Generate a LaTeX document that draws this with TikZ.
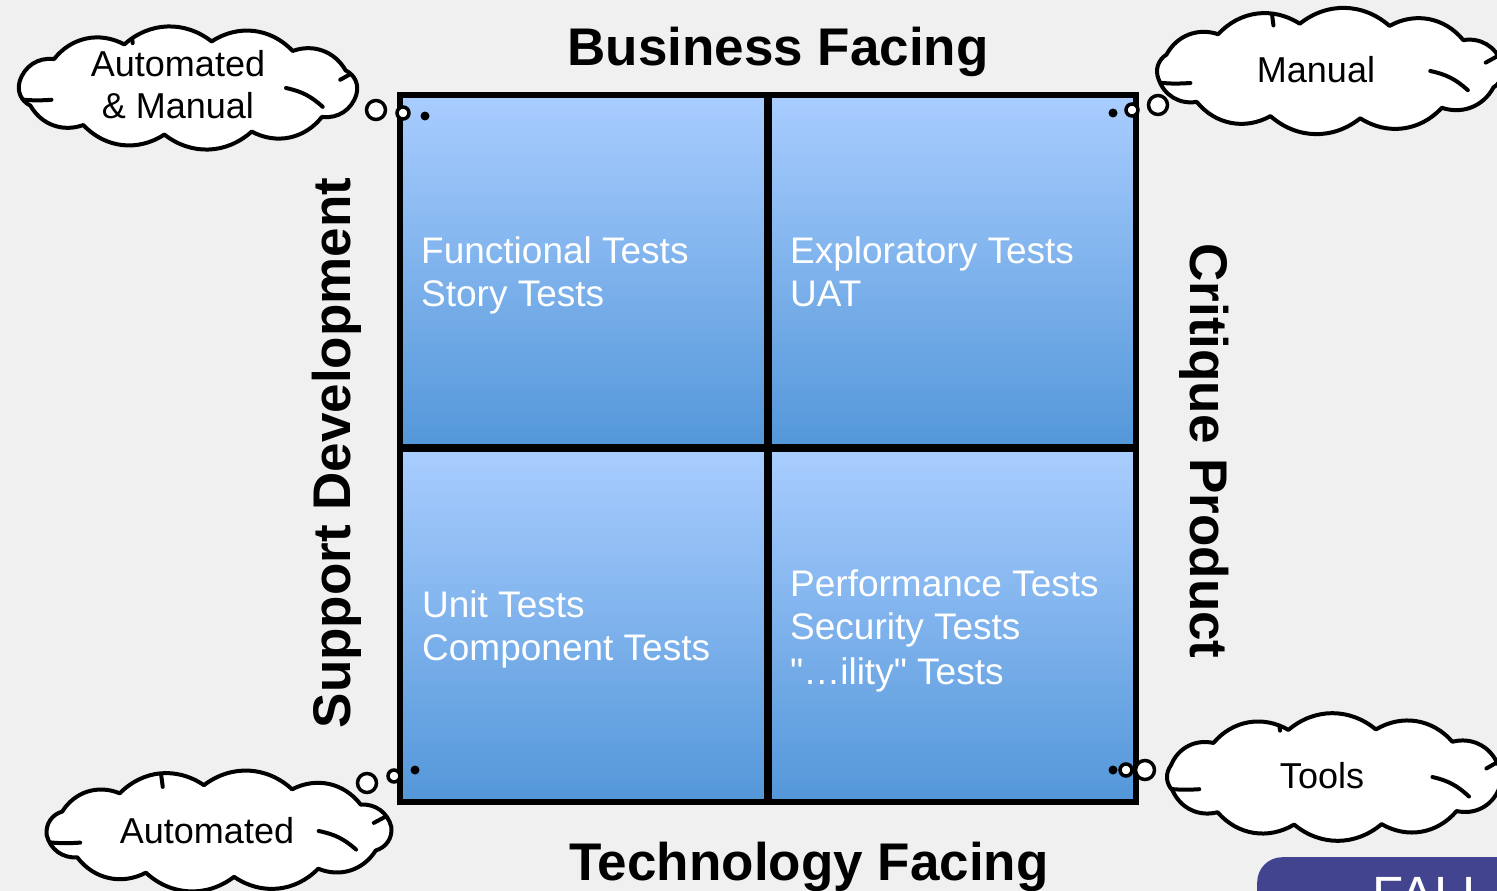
\documentclass[tikz,border=0pt]{standalone}
\usepackage{fontspec}
\setmainfont{Liberation Sans}
\newfontfamily\qfont{Liberation Sans}[Ligatures=TeXOff]
\definecolor{bgc}{HTML}{F0F0F0}
\definecolor{qtop}{HTML}{A9CDFF}
\definecolor{qbot}{HTML}{5397D9}
\definecolor{fallc}{HTML}{43448F}
\newcommand{\cloudpath}[5]{({#1+#3*cos(#5)},{#2+#4*sin(#5)})
    \foreach \k in {1,...,11} { to[bend left=40] ({#1+#3*cos(#5+\k*30)},{#2+#4*sin(#5+\k*30)}) }
    to[bend left=40] cycle}
\newcommand{\puffcloud}[5]{% cx cy a b offset
  \draw[cloudline] \cloudpath{#1}{#2}{#3}{#4}{#5};
  \begin{scope}
    \clip \cloudpath{#1}{#2}{#3}{#4}{#5};
    \pgfmathsetmacro{\cW}{2*(#3+5)}
    \pgfmathsetmacro{\cH}{2*(#4+12)}
    \pgfmathsetmacro{\cx}{#1-\cW/2}
    \pgfmathsetmacro{\cy}{#2-\cH/2}
    \draw[cloudmark] ({\cx-10},{\cy+0.57*\cH}) to[bend right=8] ({\cx+0.11*\cW},{\cy+0.6*\cH});
    \draw[cloudmark] ({\cx+0.335*\cW},{\cy-5}) -- ({\cx+0.342*\cW},{\cy+0.12*\cH});
    \draw[cloudmark] ({\cx+\cW+5},{\cy+0.3*\cH}) -- ({\cx+0.935*\cW},{\cy+0.43*\cH});
    \draw[cloudmark] ({\cx+0.78*\cW},{\cy+0.5*\cH}) to[bend left=15] ({\cx+0.885*\cW},{\cy+0.66*\cH});
  \end{scope}}
\begin{document}
\begin{tikzpicture}[x=1pt,y=-1pt,
 quad/.style={draw=black,line width=6.5pt,top color=qtop,bottom color=qbot,inner sep=0,rectangle},
 qtext/.style={text=white,font=\fontsize{37}{43}\selectfont,anchor=base west,inner sep=0},
 title/.style={font=\bfseries\fontsize{53}{60}\selectfont,inner sep=0,anchor=base},
 cloudline/.style={draw=black,line width=4pt,fill=white,line join=round},
 cloudmark/.style={draw=black,line width=4pt,line cap=round},
 ctext/.style={font=\fontsize{36}{42}\selectfont,inner sep=0,anchor=base},
 bub/.style={circle,draw=black,line width=3.5pt,fill=white,inner sep=0},
 bdot/.style={circle,fill=black,inner sep=0,minimum size=9pt}]
\clip (0,0) rectangle (1497,891);
\fill[bgc] (0,0) rectangle (1497,891);
% quadrants
\node[quad,minimum width=367pt,minimum height=352pt] (q1) at (583.5,271) {};
\node[quad,minimum width=367pt,minimum height=352pt] (q2) at (952.5,271) {};
\node[quad,minimum width=367pt,minimum height=353pt] (q3) at (583.5,625.5) {};
\node[quad,minimum width=367pt,minimum height=353pt] (q4) at (952.5,625.5) {};
% quadrant texts
\node[qtext] (t1a) at (421,263) {Functional Tests};
\node[qtext] (t1b) at (421,306) {Story Tests};
\node[qtext] (t2a) at (790,263) {Exploratory Tests};
\node[qtext] (t2b) at (790,306) {UAT};
\node[qtext] (t3a) at (422,617) {Unit Tests};
\node[qtext] (t3b) at (422,660) {Component Tests};
\node[qtext] (t4a) at (790,596) {Performance Tests};
\node[qtext] (t4b) at (790,639) {Security Tests};
\node[qtext] (t4c) at (790,684) {\qfont "…ility" Tests};
% titles
\node[title] (bf) at (778,66) {Business Facing};
\node[title] (tf) at (809,880) {Technology Facing};
\node[title,rotate=90] (sd) at (350,453) {Support Development};
\node[title,rotate=-90] (cp) at (1190,451) {Critique Product};
% clouds
\puffcloud{188}{88}{170}{47}{8}
\puffcloud{1330}{71}{174}{48}{20}
\puffcloud{219}{831}{173}{46}{-5}
\puffcloud{1335}{777}{169}{49}{14}
\node[ctext] (c1a) at (178,77) {Automated};
\node[ctext] (c1b) at (178,118) {\& Manual};
\node[ctext] (c2) at (1316,83) {Manual};
\node[ctext] (c3) at (207,843) {Automated};
\node[ctext] (c4) at (1322,788) {Tools};
% bubbles
\node[bub,minimum size=19pt] (b1a) at (376,110) {};
\node[bub,minimum size=12pt] (b1b) at (403,113) {};
\node[bdot] (b1c) at (425,116) {};
\node[bdot] (b2c) at (1113,113) {};
\node[bub,minimum size=12pt] (b2b) at (1132,110) {};
\node[bub,minimum size=19pt] (b2a) at (1158,105) {};
\node[bub,minimum size=19pt] (b3a) at (367,783) {};
\node[bub,minimum size=12pt] (b3b) at (394,776) {};
\node[bdot] (b3c) at (415,770) {};
\node[bdot] (b4c) at (1113,770) {};
\node[bub,minimum size=12pt] (b4b) at (1126,770) {};
\node[bub,minimum size=19pt] (b4a) at (1145,770) {};
% corner tab
\node[fill=fallc,rounded corners=25pt,minimum width=400pt,minimum height=100pt,anchor=north west,inner sep=0] (fall) at (1257,857) {};
\node[text=white,font=\fontsize{51}{51}\selectfont,anchor=base west,inner sep=0] (fallt) at (1372,912) {FALL};
\end{tikzpicture}
\end{document}
